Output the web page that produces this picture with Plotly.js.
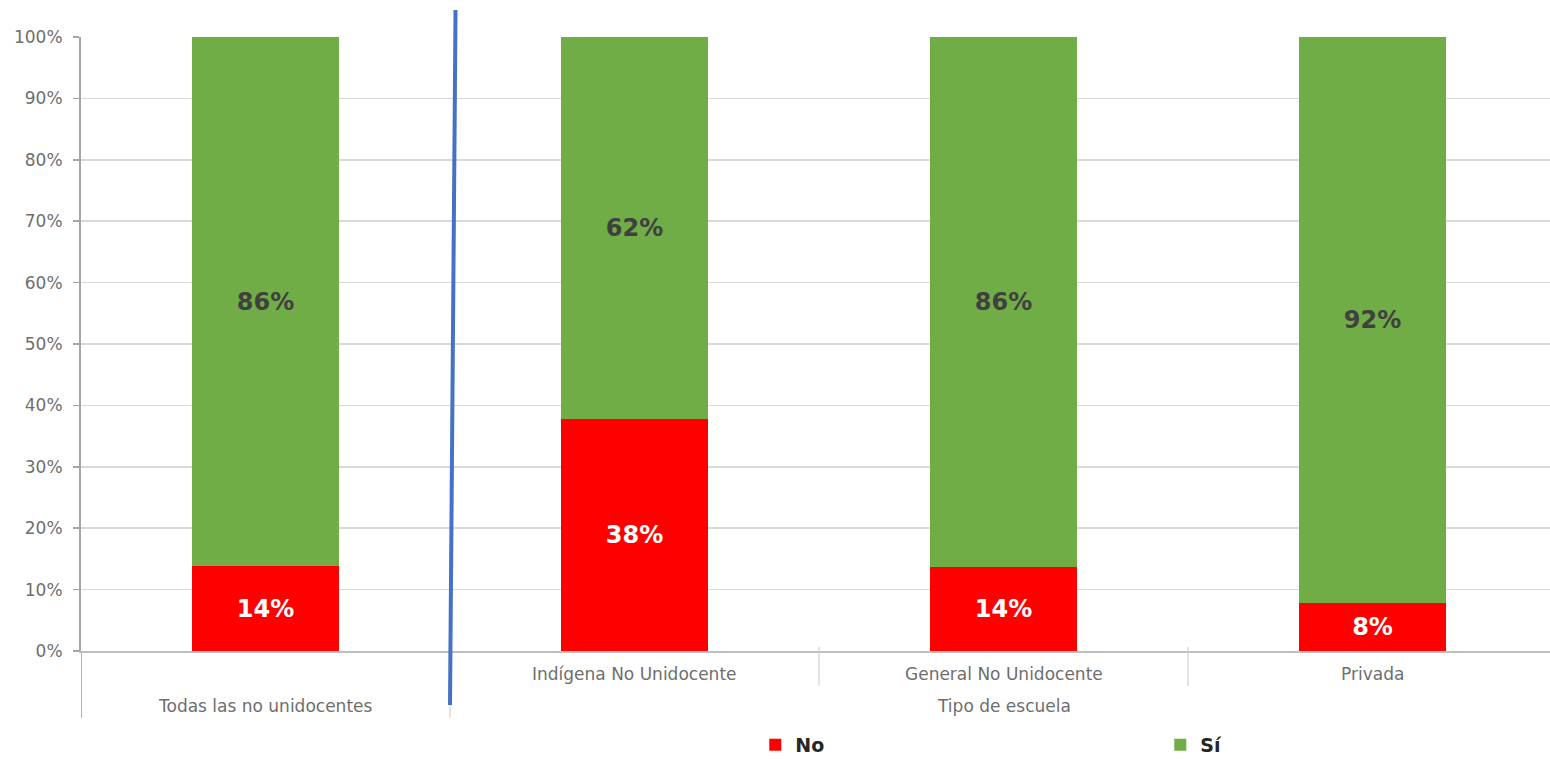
<!DOCTYPE html>
<html>
<head>
<meta charset="utf-8">
<script src="https://cdn.plot.ly/plotly-3.0.1.min.js"></script>
<style>html,body{margin:0;padding:0;background:#fff;}#chart{width:1550px;height:759px;}</style>
</head>
<body>
<div id="chart"></div>
<script>
const categories = ["Todas las no unidocentes", "Indígena No Unidocente", "General No Unidocente", "Privada"];
const groupLabel = "Tipo de escuela";
const seriesNames = ["No", "Sí"];
const noValues = [13.8, 37.8, 13.7, 7.8];
const siValues = [86.2, 62.2, 86.3, 92.2];
const yTicks = [0, 10, 20, 30, 40, 50, 60, 70, 80, 90, 100];
const yTickText = yTicks.map(v => v + "%");

const labelFont = {family: "DejaVu Sans", size: 24, weight: 700};

const traces = [
  {
    type: "bar", name: seriesNames[0], x: categories, y: noValues,
    width: 0.4, marker: {color: "#FF0000"},
    texttemplate: "%{y:.0f}%", textposition: "inside", insidetextanchor: "middle",
    textangle: 0, constraintext: "none",
    textfont: Object.assign({color: "#FFFFFF"}, labelFont),
    hoverinfo: "skip"
  },
  {
    type: "bar", name: seriesNames[1], x: categories, y: siValues,
    width: 0.4, marker: {color: "#70AD47"},
    texttemplate: "%{y:.0f}%", textposition: "inside", insidetextanchor: "middle",
    textangle: 0, constraintext: "none",
    textfont: Object.assign({color: "#404040"}, labelFont),
    hoverinfo: "skip"
  }
];

const catFont = {family: "DejaVu Sans", size: 17, color: "#6e6e6e"};
const annotations = [];
for (let i = 1; i < categories.length; i++) {
  annotations.push({xref: "x", yref: "paper", x: i, y: -0.0375, yanchor: "middle",
    text: categories[i], showarrow: false, font: catFont});
}
annotations.push({xref: "x", yref: "paper", x: 0, y: -0.0896, yanchor: "middle",
  text: categories[0], showarrow: false, font: catFont});
annotations.push({xref: "x", yref: "paper", x: 2, y: -0.0896, yanchor: "middle",
  text: groupLabel, showarrow: false, font: catFont});

const divColor = "#c8c8c8";
const shapes = [
  {type: "line", xref: "x", yref: "paper", x0: -0.5, x1: -0.5, y0: 0, y1: -0.109, line: {color: "#b0b0b0", width: 2}},
  {type: "line", xref: "x", yref: "paper", x0: 0.5, x1: 0.5, y0: 0, y1: -0.109, line: {color: divColor, width: 1}},
  {type: "line", xref: "x", yref: "paper", x0: 1.5, x1: 1.5, y0: 0.0065, y1: -0.057, line: {color: divColor, width: 1}},
  {type: "line", xref: "x", yref: "paper", x0: 2.5, x1: 2.5, y0: 0.0065, y1: -0.057, line: {color: divColor, width: 1}},
  {type: "line", xref: "x", yref: "paper", x0: 0.515, x1: 0.5, y0: 1.044, y1: -0.088, line: {color: "#4472C4", width: 4}}
];

const layout = {
  width: 1550, height: 759,
  margin: {l: 81, r: 0, t: 37, b: 108, pad: 0, autoexpand: false},
  paper_bgcolor: "#ffffff", plot_bgcolor: "#ffffff",
  barmode: "stack",
  showlegend: true,
  legend: {
    orientation: "h", traceorder: "normal",
    x: 0.459, xanchor: "left", y: -0.153, yanchor: "middle",
    entrywidth: 360, entrywidthmode: "pixels",
    font: {family: "DejaVu Sans", size: 19, weight: 700, color: "#262626"},
    bgcolor: "rgba(0,0,0,0)"
  },
  xaxis: {
    type: "category", range: [-0.5, 3.481], showticklabels: false, ticks: "",
    showgrid: false, showline: true, linecolor: "#bfbfbf", linewidth: 1.5,
    fixedrange: true
  },
  yaxis: {
    range: [0, 100], tickmode: "array", tickvals: yTicks, ticktext: yTickText,
    ticks: "outside", ticklen: 6, tickwidth: 1.5, tickcolor: "#a6a6a6",
    ticklabelstandoff: 7,
    showline: true, linecolor: "#a6a6a6", linewidth: 2,
    gridcolor: "#d9d9d9", gridwidth: 1.5, zeroline: false,
    tickfont: {family: "DejaVu Sans", size: 17, color: "#6e6e6e"},
    fixedrange: true
  },
  annotations: annotations,
  shapes: shapes
};

Plotly.newPlot("chart", traces, layout, {displayModeBar: false, staticPlot: true});
</script>
</body>
</html>
